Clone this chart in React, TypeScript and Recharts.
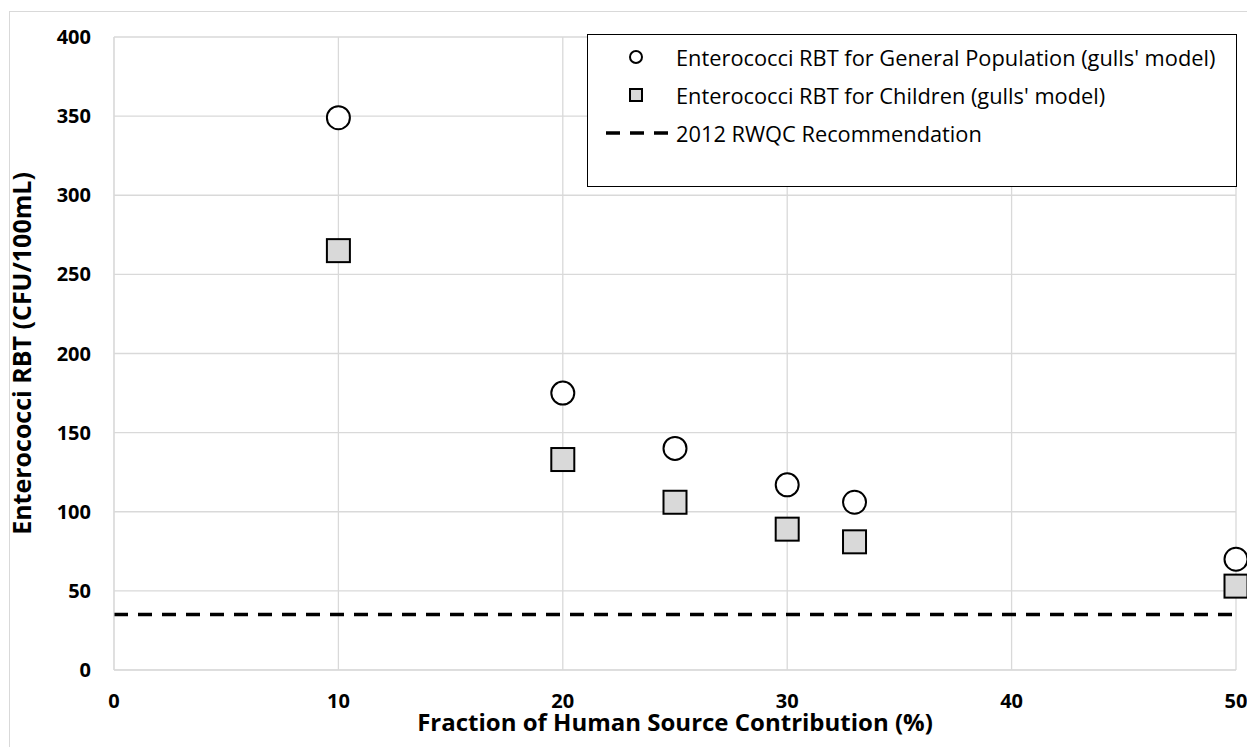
import React from 'react'
import { ScatterChart, Scatter, XAxis, YAxis, CartesianGrid, ReferenceLine } from 'recharts'

// fraction of human source contribution (%)
const fractions = [10, 20, 25, 30, 33, 50]
// RBT values (CFU/100mL)
const generalPop = [349, 175, 140, 117, 106, 70]
const children = [265, 133, 106, 89, 81, 53]
const RWQC_2012 = 35

const xTicks = [0, 10, 20, 30, 40, 50]
const yTicks = [0, 50, 100, 150, 200, 250, 300, 350, 400]

const legendItems = [
  { key: 'gen', label: "Enterococci RBT for General Population (gulls' model)" },
  { key: 'child', label: "Enterococci RBT for Children (gulls' model)" },
  { key: 'rwqc', label: '2012 RWQC Recommendation' },
]

const genData = fractions.map((x, i) => ({ x, y: generalPop[i] }))
const childData = fractions.map((x, i) => ({ x, y: children[i] }))

const FONT = '"Open Sans", "Liberation Sans", sans-serif'
const GRID = '#d9d9d9'

const CircleMark = (props: any) => (
  <circle cx={props.cx} cy={props.cy} r={11.5} fill="#fff" stroke="#000" strokeWidth={2} />
)
const SquareMark = (props: any) => (
  <rect x={props.cx - 11.5} y={props.cy - 11.5} width={23} height={23} fill="#d9d9d9" stroke="#000" strokeWidth={2} />
)

function LegendBox() {
  return (
    <div style={{ position: 'absolute', left: 579, top: 26, width: 650, height: 153, border: '1px solid #000', background: '#fff', boxSizing: 'border-box', fontFamily: FONT, fontSize: 21.8, color: '#000' }}>
      {legendItems.map((it, i) => (
        <div key={it.key} style={{ position: 'absolute', left: 0, top: 22 + i * 38 - 14, height: 28, display: 'flex', alignItems: 'center' }}>
          <svg width={88} height={28} style={{ display: 'block' }}>
            {it.key === 'gen' && <circle cx={48} cy={14} r={6} fill="#fff" stroke="#000" strokeWidth={2} />}
            {it.key === 'child' && <rect x={42} y={8} width={12} height={12} fill="#d9d9d9" stroke="#000" strokeWidth={2} />}
            {it.key === 'rwqc' && <line x1={18} y1={14} x2={86} y2={14} stroke="#000" strokeWidth={3.5} strokeDasharray="14 10" />}
          </svg>
          <span style={{ whiteSpace: 'nowrap' }}>{it.label}</span>
        </div>
      ))}
    </div>
  )
}

export default function App() {
  return (
    <div style={{ position: 'relative', width: 1247, height: 739, overflow: 'hidden', background: '#fff' }}>
      <div style={{ position: 'absolute', left: 1, top: 3, width: 1300, height: 800, border: `1px solid ${GRID}` }} />
      <ScatterChart width={1247} height={739} margin={{ top: 29, right: 19, left: 0, bottom: 0 }} style={{ position: 'absolute', left: 0, top: 0, fontFamily: FONT }}>
        <CartesianGrid stroke={GRID} strokeWidth={1.3} />
        <XAxis
          type="number"
          dataKey="x"
          domain={[0, 50]}
          ticks={xTicks}
          height={77}
          tickSize={0}
          tickMargin={24}
          axisLine={{ stroke: GRID }}
          tick={{ fontSize: 20, fontWeight: 700, fill: '#000' }}
          label={{ value: 'Fraction of Human Source Contribution (%)', position: 'insideBottom', offset: 16, style: { fontSize: 24, fontWeight: 700, fill: '#000', fontFamily: FONT } }}
        />
        <YAxis
          type="number"
          dataKey="y"
          domain={[0, 400]}
          ticks={yTicks}
          width={106}
          tickSize={0}
          tickMargin={23}
          axisLine={{ stroke: GRID }}
          tick={{ fontSize: 20, fontWeight: 700, fill: '#000' }}
          label={{ value: 'Enterococci RBT (CFU/100mL)', angle: -90, position: 'insideLeft', offset: 14, style: { textAnchor: 'middle', fontSize: 25, fontWeight: 700, fill: '#000', fontFamily: FONT } }}
        />
        <ReferenceLine y={RWQC_2012} stroke="#000" strokeWidth={3.5} strokeDasharray="14 10" />
        <Scatter data={childData} shape={SquareMark} isAnimationActive={false} />
        <Scatter data={genData} shape={CircleMark} isAnimationActive={false} />
      </ScatterChart>
      <LegendBox />
    </div>
  )
}
